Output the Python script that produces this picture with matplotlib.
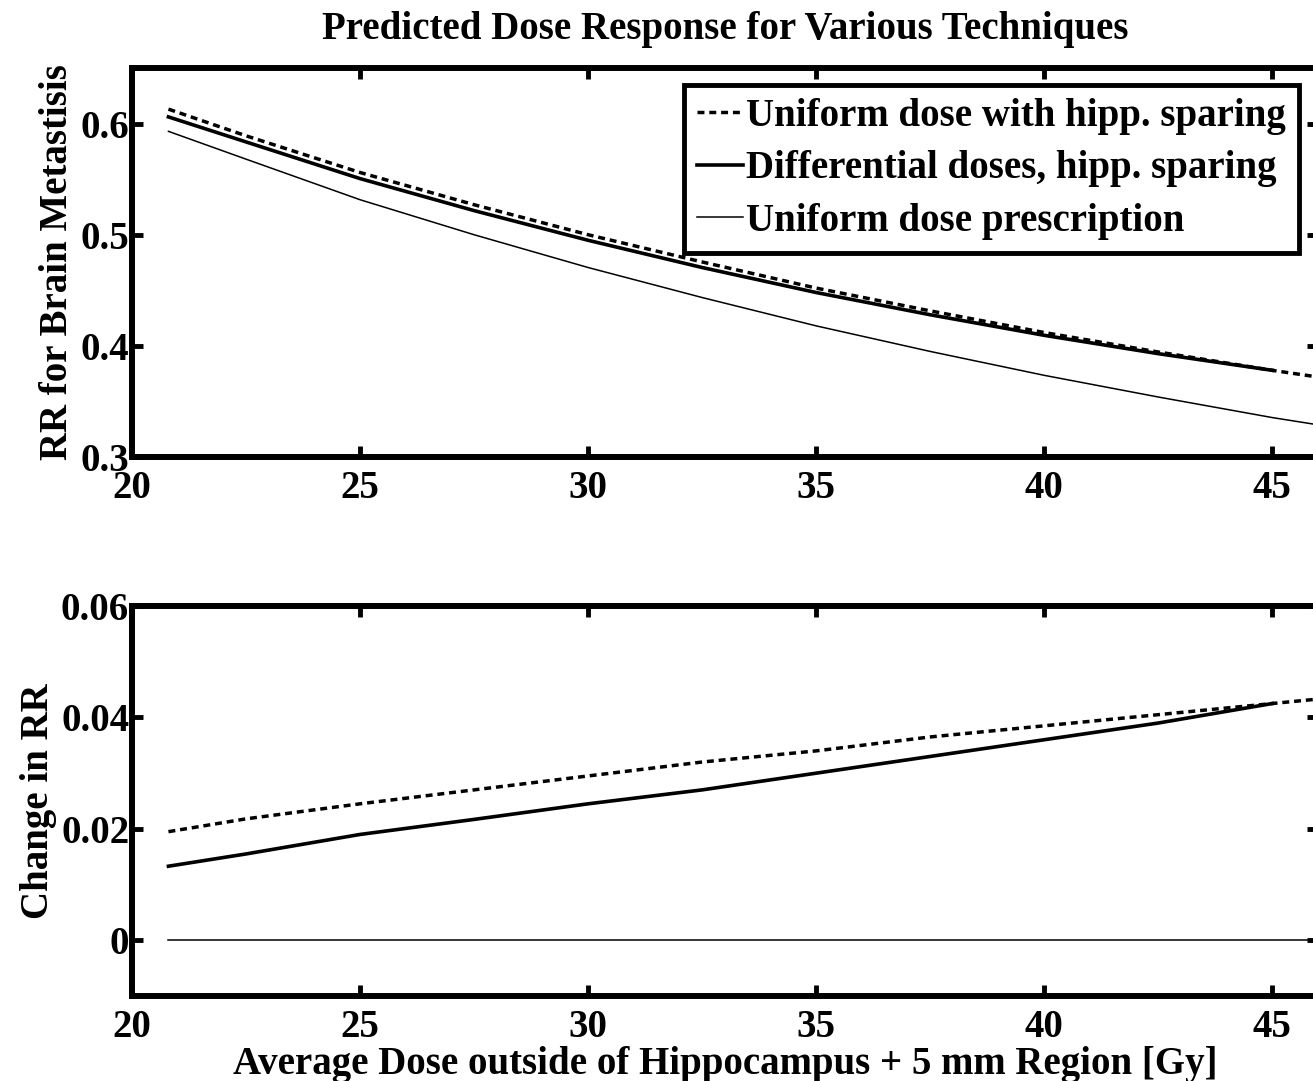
import matplotlib
matplotlib.use('Agg')
import matplotlib.pyplot as plt

plt.rcParams['font.family'] = ['Liberation Serif', 'DejaVu Serif']
plt.rcParams['font.weight'] = 'bold'
plt.rcParams['axes.titleweight'] = 'bold'
plt.rcParams['axes.labelweight'] = 'bold'
plt.rcParams['font.size'] = 28

# dose values (Gy)
dose = [20.8, 22.5, 25, 27.5, 30, 32.5, 35, 37.5, 40, 42.5, 45, 46]
dose_diff = [20.8, 22.5, 25, 27.5, 30, 32.5, 35, 37.5, 40, 42.5, 45]

# top panel: relative risk
rr_uniform_hs = [0.613, 0.589, 0.556, 0.527, 0.500, 0.4755, 0.452, 0.4315, 0.412, 0.3945, 0.378, 0.372]
rr_diff_hs = [0.606, 0.5835, 0.5505, 0.5217, 0.495, 0.4705, 0.448, 0.428, 0.4095, 0.393, 0.378]
rr_uniform = [0.593, 0.568, 0.5315, 0.500, 0.4705, 0.4435, 0.418, 0.395, 0.3735, 0.354, 0.3355, 0.329]

# bottom panel: change in RR
chg_uniform_hs = [0.0195, 0.0218, 0.0245, 0.027, 0.0295, 0.032, 0.034, 0.0365, 0.0385, 0.0405, 0.0425, 0.0433]
chg_diff_hs = [0.0133, 0.0155, 0.019, 0.0217, 0.0245, 0.027, 0.030, 0.033, 0.036, 0.039, 0.0425]
chg_uniform = [0.0] * len(dose)

labels = ['Uniform dose with hipp. sparing',
          'Differential doses, hipp. sparing',
          'Uniform dose prescription']

xticks = [20, 25, 30, 35, 40, 45]

fig = plt.figure(figsize=(13.13, 10.81), dpi=100)
ax1 = fig.add_axes([0.1005, 0.5772, 0.9033, 0.3599])
ax2 = fig.add_axes([0.1005, 0.0786, 0.9033, 0.3608])

dots = (0, (2.0, 1.4))

ax1.plot(dose, rr_uniform_hs, color='black', lw=2.5, linestyle=dots, label=labels[0])
ax1.plot(dose_diff, rr_diff_hs, color='black', lw=2.6, label=labels[1])
ax1.plot(dose, rr_uniform, color='black', lw=1.1, label=labels[2])

ax2.plot(dose, chg_uniform_hs, color='black', lw=2.5, linestyle=dots)
ax2.plot(dose_diff, chg_diff_hs, color='black', lw=2.6)
ax2.plot(dose, chg_uniform, color='black', lw=1.1)

for ax in (ax1, ax2):
    ax.set_xlim(20, 46)
    ax.set_xticks(xticks)
    for s in ax.spines.values():
        s.set_linewidth(4.3)
    ax.tick_params(direction='in', length=8, width=3.5, top=True, right=True, labelsize=28)
    ax.tick_params(axis='x', pad=9)
    ax.tick_params(axis='y', pad=2)

ax1.set_ylim(0.3, 0.65)
ax1.set_yticks([0.3, 0.4, 0.5, 0.6])
ax1.set_yticklabels(['0.3', '0.4', '0.5', '0.6'])
ax1.set_ylabel('RR for Brain Metastisis', labelpad=3)
ax1.set_title('Predicted Dose Response for Various Techniques', fontsize=28, pad=21)

ax2.set_ylim(-0.01, 0.06)
ax2.set_yticks([0, 0.02, 0.04, 0.06])
ax2.set_yticklabels(['0', '0.02', '0.04', '0.06'])
ax2.set_ylabel('Change in RR', labelpad=3)
ax2.set_xlabel('Average Dose outside of Hippocampus + 5 mm Region [Gy]', labelpad=0)

leg = ax1.legend(loc='upper right', bbox_to_anchor=(1299 / 1313, 1 - 85 / 1081),
                 bbox_transform=fig.transFigure, fancybox=False, framealpha=1,
                 edgecolor='black', handlelength=1.2, handletextpad=0.08,
                 labelspacing=0.4, borderpad=0.33, borderaxespad=0)
leg.get_frame().set_linewidth(3.5)

fig.savefig('out.png', dpi=100)
